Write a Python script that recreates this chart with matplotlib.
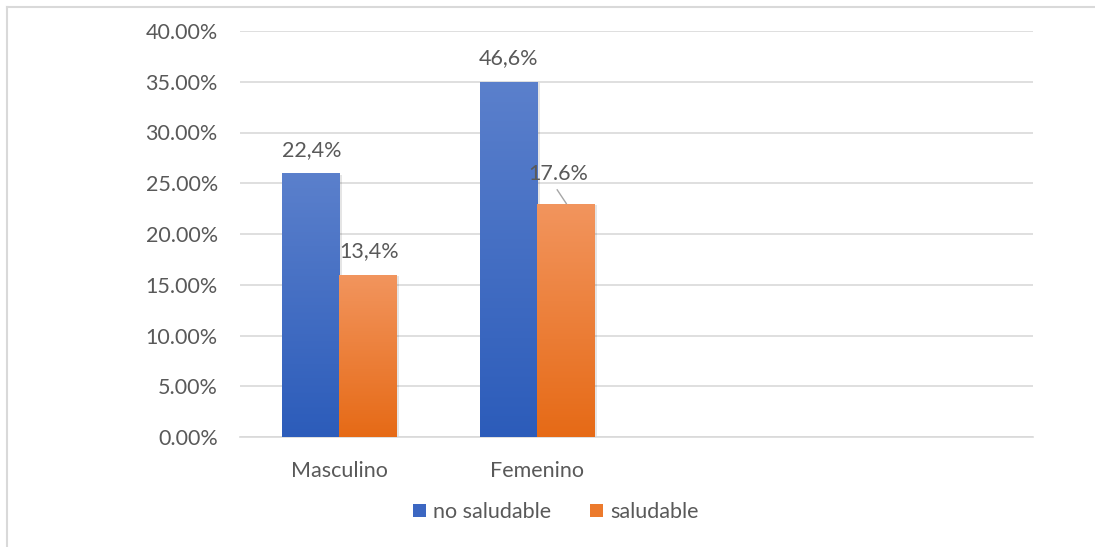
import numpy as np
import matplotlib
matplotlib.use("Agg")
import matplotlib.pyplot as plt
from matplotlib.colors import LinearSegmentedColormap
from matplotlib.patches import Rectangle
from matplotlib.lines import Line2D

# Data
categories = ["Masculino", "Femenino", "", ""]
series_names = ["no saludable", "saludable"]
no_saludable = [26.0, 35.0]
saludable = [16.0, 23.0]
no_saludable_labels = ["22,4%", "46,6%"]
saludable_labels = ["13,4%", "17.6%"]
yticks = [0, 5, 10, 15, 20, 25, 30, 35, 40]

plt.rcParams["font.family"] = ["Lato", "DejaVu Sans"]
text_color = "#595959"
grid_color = "#D9D9D9"
fs = 15.5

fig = plt.figure(figsize=(10.95, 5.47), dpi=100)
ax = fig.add_axes([240 / 1095, 1 - 437 / 547, (1033 - 240) / 1095, (437 - 31) / 547])

n_slots = len(categories)
x = np.arange(n_slots)
bar_w = 0.29

blue_cmap = LinearSegmentedColormap.from_list("b", ["#2C5CBA", "#5B80CC"])
orange_cmap = LinearSegmentedColormap.from_list("o", ["#E66A16", "#F2955E"])


def gradient_bars(xs, heights, cmap):
    bars = ax.bar(xs, heights, width=bar_w, color="none", edgecolor="none", zorder=3)
    grad = np.linspace(0, 1, 256).reshape(-1, 1)
    for b in bars:
        x0, y0 = b.get_x(), b.get_y()
        w, h = b.get_width(), b.get_height()
        # soft shadow on the right/bottom
        sh = Rectangle((x0 + 0.012, y0 - 0.15), w, h, facecolor="#000000",
                       alpha=0.10, edgecolor="none", zorder=2)
        ax.add_patch(sh)
        im = ax.imshow(grad, cmap=cmap, origin="lower", aspect="auto",
                       extent=[x0, x0 + w, y0, y0 + h], zorder=3)
        im.set_clip_path(b)
    return bars


b1 = gradient_bars(x[:2] - bar_w / 2, no_saludable, blue_cmap)
b2 = gradient_bars(x[:2] + bar_w / 2, saludable, orange_cmap)

ax.set_xlim(-0.5, n_slots - 0.5)
ax.set_ylim(0, 40)
ax.set_yticks(yticks)
ax.set_yticklabels([f"{v:.2f}%" for v in yticks])
ax.set_xticks(x[:2])
ax.set_xticklabels(categories[:2])
ax.tick_params(axis="both", length=0, labelsize=fs, colors=text_color)
ax.tick_params(axis="y", pad=16)
ax.tick_params(axis="x", pad=17)
ax.grid(axis="y", color=grid_color, linewidth=1.2, zorder=0)
for s in ["top", "right", "left"]:
    ax.spines[s].set_visible(False)
ax.spines["bottom"].set_color(grid_color)
ax.spines["bottom"].set_linewidth(1.2)

# Data labels
lab_kw = dict(ha="center", va="center", fontsize=fs, color=text_color, zorder=5)
ax.text(x[0] - 0.14, no_saludable[0] + 2.3, no_saludable_labels[0], **lab_kw)
ax.text(x[1] - 0.146, no_saludable[1] + 2.35, no_saludable_labels[1], **lab_kw)
ax.text(x[0] + 0.15, saludable[0] + 2.3, saludable_labels[0], **lab_kw)
ax.text(x[1] + 0.106, saludable[1] + 2.95, saludable_labels[1], **lab_kw)
ax.plot([x[1] + 0.10, x[1] + 0.146], [saludable[1] + 1.35, saludable[1]],
        color="#A6A6A6", linewidth=1, zorder=4)

# Legend
handles = [Rectangle((0, 0), 1, 1, facecolor="#3C67C2"),
           Rectangle((0, 0), 1, 1, facecolor="#EC7A2C")]
fig.legend(handles, series_names, loc="center", bbox_to_anchor=(556 / 1095, 1 - 512 / 547),
           ncol=2, frameon=False, fontsize=fs, labelcolor=text_color,
           handlelength=0.6, handleheight=0.6, handletextpad=0.35, columnspacing=1.8)

# Outer frame (left and top edges)
fig.add_artist(Line2D([7 / 1095, 7 / 1095], [0, 1 - 7 / 547], color=grid_color, linewidth=1.5))
fig.add_artist(Line2D([7 / 1095, 1094 / 1095], [1 - 7 / 547, 1 - 7 / 547], color=grid_color, linewidth=1.5))

fig.savefig("out.png", dpi=100, facecolor="white")
